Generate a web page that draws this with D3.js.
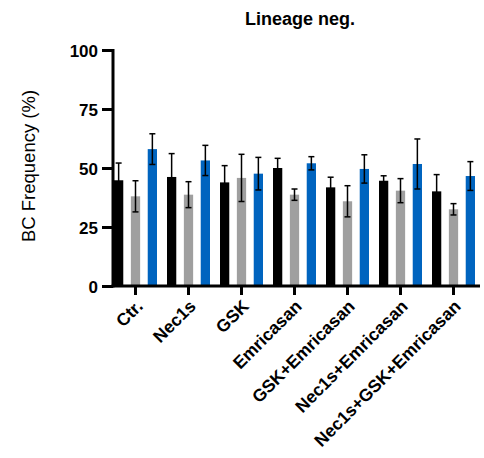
<!DOCTYPE html>
<html>
<head>
<meta charset="utf-8">
<script src="https://cdn.jsdelivr.net/npm/d3@7"></script>
<style>
  body { margin: 0; background: #fff; }
  text { font-family: "Liberation Sans", Arial, sans-serif; }
</style>
</head>
<body>
<div id="chart"></div>
<script>
// groups along x
const groups = ["Ctr.", "Nec1s", "GSK", "Emricasan", "GSK+Emricasan", "Nec1s+Emricasan", "Nec1s+GSK+Emricasan"]
const series = ["s1", "s2", "s3"]
const colors = ["#000000", "#9f9f9f", "#0064bf"]

// means and SD
const s1Mean = [44.8, 46.2, 43.9, 50.0, 41.8, 44.6, 40.1]
const s1Sd = [7.3, 9.9, 7.1, 4.1, 4.3, 2.1, 7.1]
const s2Mean = [38.0, 38.7, 45.8, 38.7, 35.9, 40.4, 32.5]
const s2Sd = [6.6, 5.5, 10.0, 2.4, 6.6, 5.1, 2.4]
const s3Mean = [58.0, 53.2, 47.6, 52.0, 49.6, 51.7, 46.6]
const s3Sd = [6.5, 6.4, 6.9, 2.8, 6.0, 10.6, 6.1]
const yTicks = [0, 25, 50, 75, 100]

const means = [s1Mean, s2Mean, s3Mean]
const sds = [s1Sd, s2Sd, s3Sd]

const W = 484, H = 458

const svg = d3.select("#chart").append("svg")
  .attr("width", W)
  .attr("height", H)

const x = d3.scaleBand()
  .domain(groups)
  .range([109, 480])

const xs = d3.scaleBand()
  .domain(series)
  .range([-21.5, 21.5])
  .paddingInner(0.45)

const y = d3.scaleLinear()
  .domain([0, 100])
  .range([286, 50])

// bars
groups.forEach(function (g, i) {
  series.forEach(function (s, j) {
    const cx = x(g) + x.bandwidth() / 2
    const bx = cx + xs(s)
    const m = means[j][i], sd = sds[j][i]
    svg.append("rect")
      .attr("x", bx)
      .attr("y", y(m))
      .attr("width", xs.bandwidth())
      .attr("height", y(0) - y(m))
      .attr("fill", colors[j])
    const ex = bx + xs.bandwidth() / 2
    svg.append("line")
      .attr("x1", ex).attr("x2", ex)
      .attr("y1", y(m + sd)).attr("y2", y(Math.max(0, m - sd)))
      .attr("stroke", "#000").attr("stroke-width", 1.5)
    ;[m + sd, m - sd].forEach(function (v) {
      svg.append("line")
        .attr("x1", ex - 3).attr("x2", ex + 3)
        .attr("y1", y(v)).attr("y2", y(v))
        .attr("stroke", "#000").attr("stroke-width", 1.5)
    })
  })
})

// y axis
const gy = svg.append("g")
  .attr("transform", "translate(113,0)")
  .call(d3.axisLeft(y).tickValues(yTicks).tickSize(11).tickSizeOuter(0))
gy.select(".domain").attr("stroke-width", 3).attr("d", "M0," + (y(0) + 1.5) + "V" + (y(100) - 1))
gy.selectAll(".tick line").attr("stroke-width", 3)
gy.selectAll(".tick text")
  .attr("x", -15)
  .attr("dy", "0.36em")
  .style("font-size", "17px")
  .style("font-weight", "bold")
  .style("font-family", "Liberation Sans, Arial, sans-serif")

// x axis
const gx = svg.append("g")
  .attr("transform", "translate(0,286)")
  .call(d3.axisBottom(x).tickSize(9).tickSizeOuter(0))
gx.select(".domain").attr("stroke-width", 3).attr("d", "M111.5,0H480")
gx.selectAll(".tick line").attr("stroke-width", 3)
gx.selectAll(".tick text")
  .attr("text-anchor", "end")
  .attr("transform", "translate(4,17) rotate(-45)")
  .attr("x", 0).attr("y", 0).attr("dy", "0.35em")
  .style("font-size", "17.5px")
  .style("font-weight", "bold")
  .style("font-family", "Liberation Sans, Arial, sans-serif")

// title
svg.append("text")
  .attr("x", 300)
  .attr("y", 25)
  .attr("text-anchor", "middle")
  .style("font-size", "18px")
  .style("font-weight", "bold")
  .text("Lineage neg.")

// y label
svg.append("text")
  .attr("transform", "translate(35,166) rotate(-90)")
  .attr("text-anchor", "middle")
  .style("font-size", "18.5px")
  .text("BC Frequency (%)")
</script>
</body>
</html>
